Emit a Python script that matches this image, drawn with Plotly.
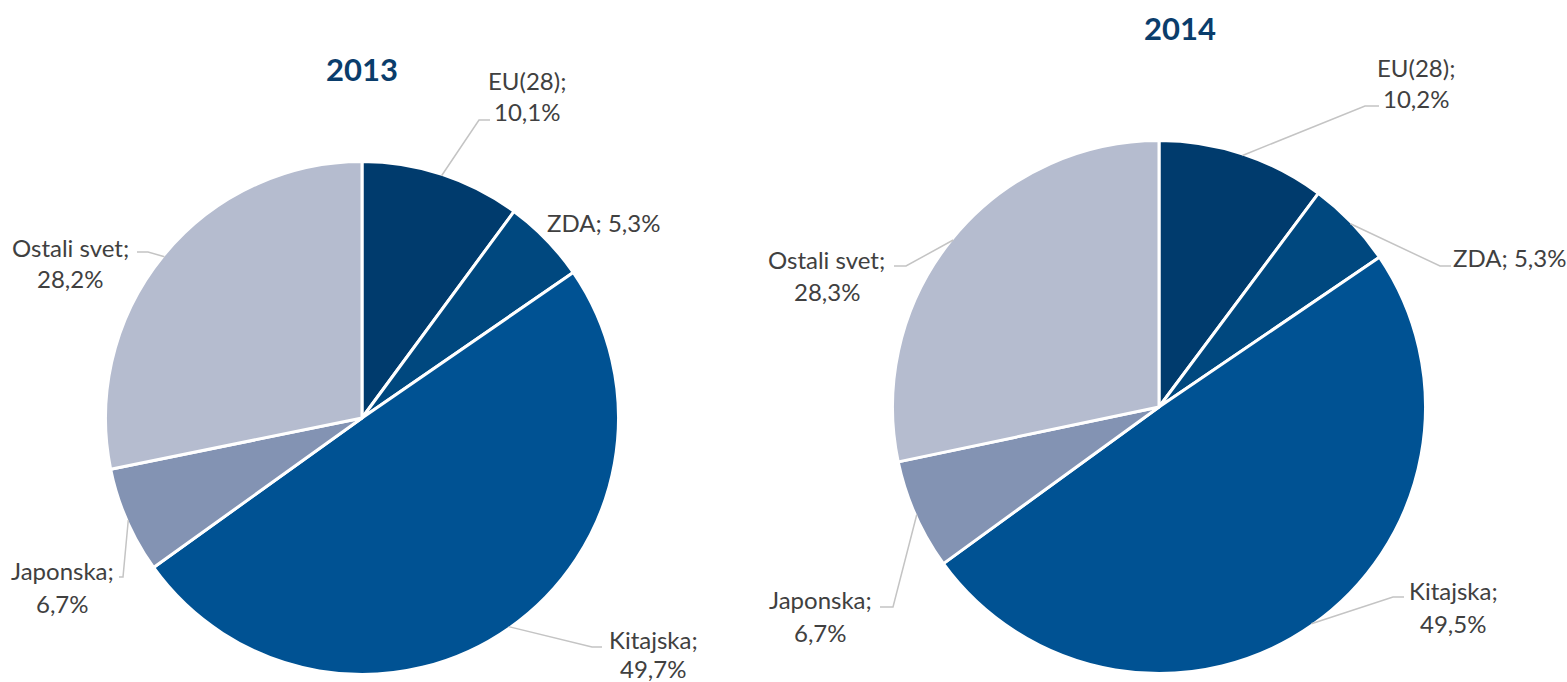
import math
import plotly.graph_objects as go

W, H = 1567, 682

# ---- data ----
categories = ["EU(28)", "ZDA", "Kitajska", "Japonska", "Ostali svet"]
values_2013 = [10.1, 5.3, 49.7, 6.7, 28.2]
values_2014 = [10.2, 5.3, 49.5, 6.7, 28.3]
years = ["2013", "2014"]

colors = ["#003b6d", "#00487f", "#005293", "#8393b3", "#b5bccf"]
text_color = "#404040"
title_color = "#0a3d6b"
leader_color = "#c4c4c4"
FONT = "Lato"

# ---- layout (pixel geometry) ----
pies = [
    dict(cx=362, cy=418, r=256.5, title=(361.5, 69)),
    dict(cx=1159, cy=407, r=266.5, title=(1180, 28)),
]
# per category: (label center x, line1 y, line2 y or None, elbow, end)
label_layout = [
    [
        (527, 80, 112, (479, 120), (490, 120)),
        (603, 223, None, None, None),
        (653, 639, 668, (592, 647), (602, 647)),
        (62, 570, 603, (123, 577), (119, 577)),
        (70, 247, 278, (148, 252), (137, 252)),
    ],
    [
        (1416, 67, 99, (1365, 106), (1379, 106)),
        (1509, 257, None, (1440, 266), (1451, 266)),
        (1453, 590, 623, (1393, 597), (1404, 597)),
        (820, 599, 632, (893, 607), (880, 607)),
        (827, 259, 291, (906, 266), (894, 266)),
    ],
]


def px(x):
    return x / W


def py(y):
    return 1 - y / H


fig = go.Figure()
annotations = []
shapes = []

for k, vals in enumerate([values_2013, values_2014]):
    p = pies[k]
    cx, cy, r = p["cx"], p["cy"], p["r"]
    fig.add_trace(go.Pie(
        labels=categories,
        values=vals,
        sort=False,
        direction="clockwise",
        rotation=0,
        textinfo="none",
        hoverinfo="label+percent",
        marker=dict(colors=colors, line=dict(color="white", width=3)),
        domain=dict(x=[px(cx - r), px(cx + r)], y=[py(cy + r), py(cy - r)]),
        showlegend=False,
    ))
    annotations.append(dict(
        x=px(p["title"][0]), y=py(p["title"][1]), xref="paper", yref="paper",
        text=f"<b>{years[k]}</b>", showarrow=False, xanchor="center", yanchor="middle",
        font=dict(family=FONT, size=31, color=title_color),
    ))
    total = sum(vals)
    cum = 0.0
    for i, v in enumerate(vals):
        mid = (cum + v / 2) / total * 2 * math.pi
        cum += v
        lx, y1, y2, elbow, end = label_layout[k][i]
        val_txt = f"{v:.1f}%".replace(".", ",")
        if y2 is None:
            lines = [(f"{categories[i]}; {val_txt}", y1)]
        else:
            lines = [(f"{categories[i]};", y1), (val_txt, y2)]
        for t, yy in lines:
            annotations.append(dict(
                x=px(lx), y=py(yy), xref="paper", yref="paper", text=t,
                showarrow=False, xanchor="center", yanchor="middle",
                font=dict(family=FONT, size=24, color=text_color),
            ))
        if elbow is not None:
            r0 = r - 1.5
            sx = cx + r0 * math.sin(mid)
            sy = cy - r0 * math.cos(mid)
            path = (f"M {px(sx)} {py(sy)} L {px(elbow[0])} {py(elbow[1])} "
                    f"L {px(end[0])} {py(end[1])}")
            shapes.append(dict(type="path", xref="paper", yref="paper", path=path,
                               line=dict(color=leader_color, width=1.5)))

fig.update_layout(
    width=W, height=H,
    margin=dict(l=0, r=0, t=0, b=0),
    paper_bgcolor="white",
    plot_bgcolor="white",
    annotations=annotations,
    shapes=shapes,
    font=dict(family=FONT),
)

fig.write_html(
    "out.html",
    config={"displayModeBar": False},
    post_script="document.body.style.margin='0';document.body.style.overflow='hidden';",
)
